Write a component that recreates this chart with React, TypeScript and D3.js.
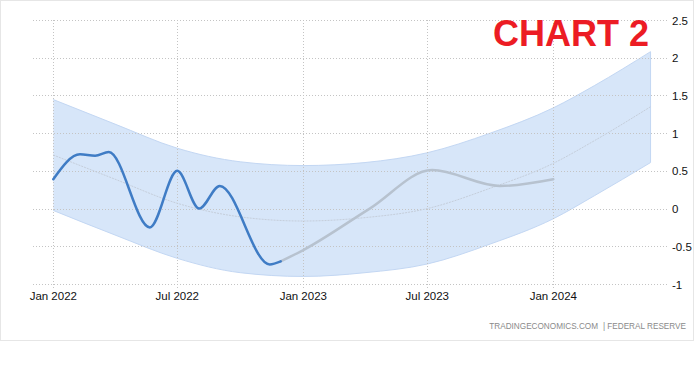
import React from "react"
import * as d3 from "d3"

// observed series (blue), then the projected path (gray)
const actualDates = ["2022-01-01", "2022-02-09", "2022-03-03", "2022-03-23", "2022-05-22", "2022-07-01", "2022-08-02", "2022-09-01", "2022-11-13", "2022-11-29"]
const actualValues = [0.39, 0.72, 0.7, 0.75, -0.25, 0.5, 0.0, 0.3, -0.74, -0.7]

const projDates = ["2022-11-29", "2023-01-01", "2023-04-08", "2023-07-08", "2023-10-15", "2024-01-01"]
const projValues = [-0.7, -0.55, 0.0, 0.51, 0.3, 0.39]

// trend line and its band
const bandDates = ["2022-01-01", "2022-04-01", "2022-07-01", "2022-10-01", "2023-01-01", "2023-04-01", "2023-07-01", "2023-10-01", "2024-01-01", "2024-03-01", "2024-05-22"]
const trendValues = [0.71, 0.39, 0.07, -0.11, -0.165, -0.12, 0.0, 0.27, 0.6, 0.9, 1.35]
const upperValues = [1.445, 1.12, 0.8, 0.62, 0.57, 0.61, 0.74, 1.0, 1.335, 1.63, 2.08]
const lowerValues = [-0.025, -0.35, -0.66, -0.85, -0.9, -0.85, -0.735, -0.47, -0.135, 0.17, 0.61]

const xTicks = ["2022-01-01", "2022-07-01", "2023-01-01", "2023-07-01", "2024-01-01"]
const yTicks = [-1, -0.5, 0, 0.5, 1, 1.5, 2, 2.5]

const parse = d3.utcParse("%Y-%m-%d")
const fmt = d3.utcFormat("%b %Y")

export default function App() {
  const width = 694,
    height = 370

  const x = d3
    .scaleUtc()
    .domain([parse("2022-01-01")!, parse("2024-01-01")!])
    .range([53.3, 553.3])
  const y = d3.scaleLinear().domain([-1, 2.5]).range([284, 20])

  const line = d3
    .line<[Date, number]>()
    .x(d => x(d[0]))
    .y(d => y(d[1]))
    .curve(d3.curveMonotoneX)

  const band = d3
    .area<number>()
    .x(i => x(parse(bandDates[i])!))
    .y0(i => y(lowerValues[i]))
    .y1(i => y(upperValues[i]))
    .curve(d3.curveMonotoneX)

  const idx = bandDates.map((_, i) => i)
  const actual = actualDates.map((d, i) => [parse(d)!, actualValues[i]] as [Date, number])
  const proj = projDates.map((d, i) => [parse(d)!, projValues[i]] as [Date, number])
  const trend = bandDates.map((d, i) => [parse(d)!, trendValues[i]] as [Date, number])
  const upper = bandDates.map((d, i) => [parse(d)!, upperValues[i]] as [Date, number])
  const lower = bandDates.map((d, i) => [parse(d)!, lowerValues[i]] as [Date, number])
  const lastX = x(parse(bandDates[bandDates.length - 1])!)

  const font = "'Liberation Sans', Arial, sans-serif"

  return (
    <div style={{ position: "absolute", left: 0, top: 0 }}>
      <svg width={width} height={height} style={{ display: "block" }}>
        <rect x={0.5} y={0.5} width={width - 1} height={340} fill="#fff" stroke="#e6e6e6" />

        {/* band */}
        <path d={band(idx) || ""} fill="#d7e6f9" stroke="none" />
        <path d={line(upper) || ""} fill="none" stroke="#c3d7f3" strokeWidth={1} />
        <path d={line(lower) || ""} fill="none" stroke="#c3d7f3" strokeWidth={1} />
        <line x1={lastX} x2={lastX} y1={y(upperValues[upperValues.length - 1])} y2={y(lowerValues[lowerValues.length - 1])} stroke="#c3d7f3" />

        {/* grid */}
        {yTicks.map(t => (
          <line key={t} x1={33} x2={669} y1={Math.round(y(t)) + 0.5} y2={Math.round(y(t)) + 0.5} stroke="#c4c4c4" strokeDasharray="1,2" />
        ))}
        {xTicks.map(t => (
          <line key={t} x1={Math.round(x(parse(t)!)) + 0.5} x2={Math.round(x(parse(t)!)) + 0.5} y1={20} y2={289} stroke="#c4c4c4" strokeDasharray="1,2" />
        ))}

        {/* trend */}
        <path d={line(trend) || ""} fill="none" stroke="#c5cedb" strokeWidth={1} strokeDasharray="2,1" />

        {/* series */}
        <path d={line(proj) || ""} fill="none" stroke="#b7c2cf" strokeWidth={2.5} strokeLinecap="round" />
        <path d={line(actual) || ""} fill="none" stroke="#3f7cc5" strokeWidth={2.5} strokeLinecap="round" />

        {/* axis labels */}
        {xTicks.map(t => (
          <text key={t} x={x(parse(t)!)} y={299.5} textAnchor="middle" fontFamily={font} fontSize={11.5} fill="#111">
            {fmt(parse(t)!)}
          </text>
        ))}
        {yTicks.map(t => (
          <text key={t} x={672} y={y(t) + 4.5} fontFamily={font} fontSize={11.5} fill="#111">
            {t}
          </text>
        ))}

        <text x={493} y={46} fontFamily={font} fontWeight="bold" fontSize={36} fill="#ec1c24">
          CHART 2
        </text>

        <g fontFamily={font} fontSize={8.2} fill="#8a8a8a">
          <text x={598} y={329} textAnchor="end">TRADINGECONOMICS.COM</text>
          <text x={604} y={329} textAnchor="middle">|</text>
          <text x={686} y={329} textAnchor="end">FEDERAL RESERVE</text>
        </g>
      </svg>
    </div>
  )
}
